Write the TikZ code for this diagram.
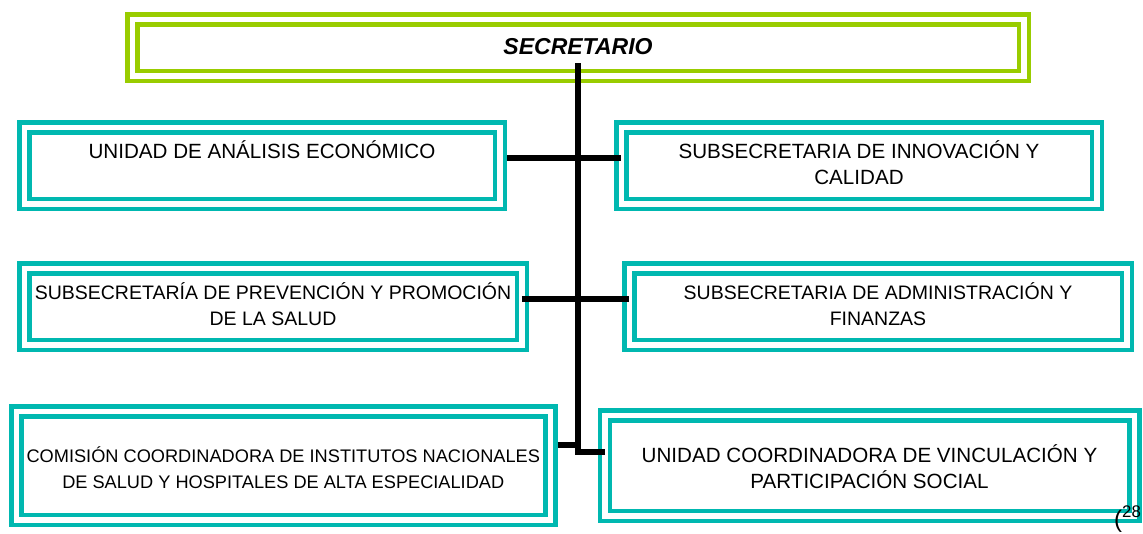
\documentclass[tikz,border=0pt]{standalone}
\usepackage{fontspec}
\setmainfont{Liberation Sans}

\definecolor{limegreen}{RGB}{153,204,0}
\definecolor{tealbox}{RGB}{0,184,176}

\newcommand\boxstrut{\rule[-5.6pt]{0pt}{26pt}}
\newcommand\unitfont{\fontsize{20.6}{26}\selectfont}
\newcommand\subfont{\fontsize{19.5}{26}\selectfont}
\newcommand\comfont{\fontsize{18.2}{26}\selectfont}

\begin{document}
\begin{tikzpicture}[x=1pt,y=-1pt,
    dblbox/.style={draw=#1,line width=4.5pt,double=white,double distance=5.5pt,
      inner sep=0pt,outer sep=0pt,align=center,
      execute at begin node=\boxstrut,execute at end node=\boxstrut},
    unitbox/.style={dblbox=tealbox},
    link/.style={line width=5.5pt}]

  \useasboundingbox (0,0) rectangle (1143,533);

  % Head of the chart
  \node[dblbox=limegreen,minimum width=891.5pt,minimum height=56.5pt,
    font=\fontsize{23}{26}\selectfont\bfseries\itshape] (sec) at (578,47.5) {SECRETARIO};

  % Units on the left
  \node[unitbox,minimum width=475.5pt,minimum height=76.5pt,font=\unitfont]
    (ana) at (262,165.5) {UNIDAD DE ANÁLISIS ECONÓMICO\\};
  \node[unitbox,minimum width=497.5pt,minimum height=76.5pt,font=\subfont]
    (prev) at (273,306.5) {SUBSECRETARÍA DE PREVENCIÓN Y PROMOCIÓN\\DE LA SALUD};
  \node[unitbox,minimum width=534pt,minimum height=108.5pt,font=\comfont]
    (com) at (283.25,465.5) {\\COMISIÓN COORDINADORA DE INSTITUTOS NACIONALES\\DE SALUD Y HOSPITALES DE ALTA ESPECIALIDAD};

  % Units on the right
  \node[unitbox,minimum width=475.5pt,minimum height=76.5pt,font=\unitfont]
    (inno) at (859,165.5) {SUBSECRETARIA DE INNOVACIÓN Y\\CALIDAD};
  \node[unitbox,minimum width=497.5pt,minimum height=76.5pt,font=\subfont]
    (admin) at (878,306.5) {SUBSECRETARIA DE ADMINISTRACIÓN Y\\FINANZAS};
  \node[unitbox,minimum width=529.5pt,minimum height=100.5pt,font=\unitfont]
    (vinc) at (869.5,465.5) {\\UNIDAD COORDINADORA DE VINCULACIÓN Y\\PARTICIPACIÓN SOCIAL};

  % Connectors
  \coordinate (spinetop) at (578,63);
  \draw[link] (spinetop) |- ([yshift=13.5pt]vinc.west);
  \draw[link,shorten <=7.25pt] ([yshift=7.5pt]ana.east) -- ([yshift=7.5pt]inno.west);
  \draw[link] ([yshift=7.5pt]prev.east) -- ([yshift=7.5pt]admin.west);
  \draw[link,shorten <=7.25pt] ([yshift=20.5pt]com.east) -| (spinetop);

  % Reference mark
  \node[anchor=base west,inner sep=0pt,font=\fontsize{24}{26}\selectfont]
    (note) at (1114,527) {(\textsuperscript{28}};

\end{tikzpicture}
\end{document}
